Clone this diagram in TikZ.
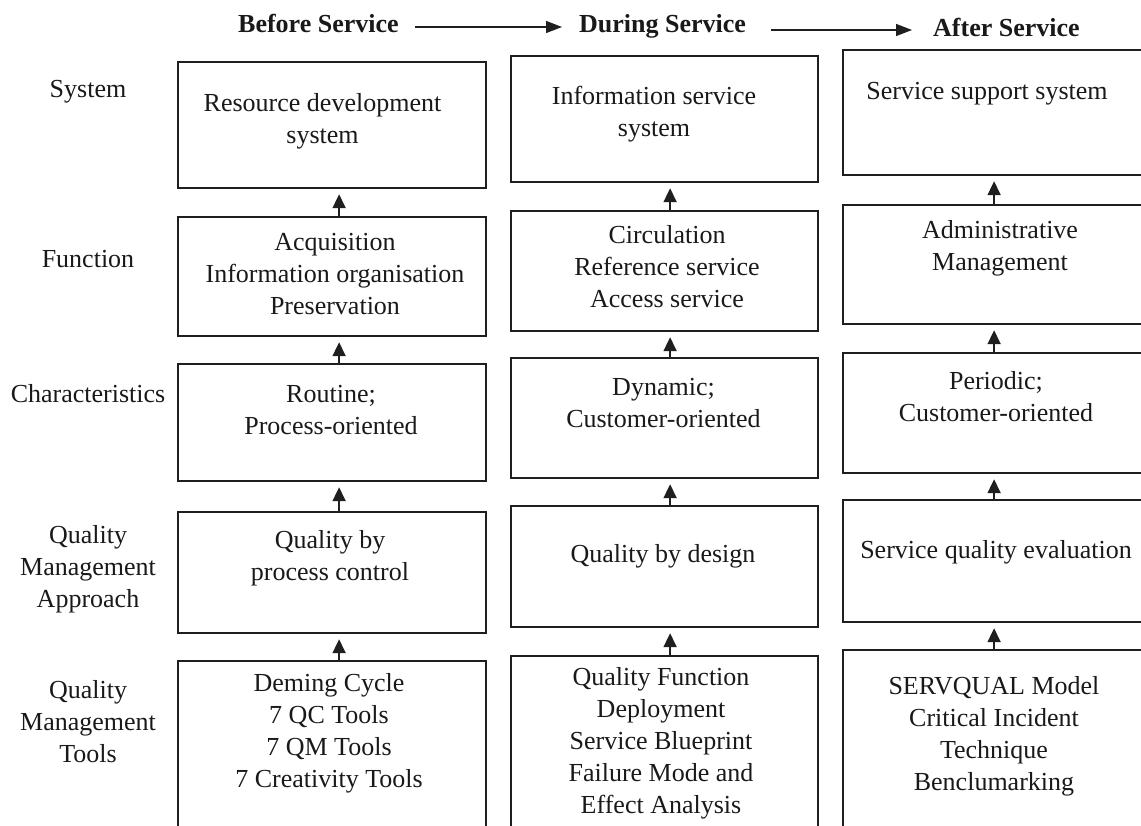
\documentclass[tikz,border=0pt]{standalone}
\usepackage{fontspec}
\setmainfont{Liberation Serif}
\usetikzlibrary{arrows.meta,calc}
\begin{document}
\begin{tikzpicture}[x=1pt,y=-1pt,
  box/.style={draw=black!88, line width=2.2pt, inner sep=0pt, anchor=north west},
  % every first line carries a \strut, so the node top sits 0.7\baselineskip above its baseline
  txt/.style={font=\fontsize{26}{32}\selectfont, align=center, inner sep=0pt,
              anchor=north, text=black!90},
  head/.style={font=\fontsize{26}{32}\selectfont\bfseries, inner sep=0pt,
               anchor=base west, text=black!90},
  uparrow/.style={draw=black!88, line width=1.8pt,
                  -{Triangle[length=14pt,width=13pt]}, shorten >=5pt},
  flow/.style={draw=black!88, line width=1.4pt,
               -{Triangle[length=16pt,width=12pt]}}
]
\useasboundingbox (0,0) rectangle (1141,826);
\clip (0,0) rectangle (1141,826);

% phase headings
\node[head] (hb) at (238,33) {Before Service};
\node[head] (hd) at (579,33) {During Service};
\node[head] (ha) at (933,37) {After Service};
\draw[flow] ($(hb.base east)+(16,-6)$) -- ($(hd.base west)+(-17,-6)$);
\draw[flow] ($(hd.base east)+(25,-3)$) -- ($(ha.base west)+(-21,-7)$);

% row labels
\node[txt] (l1) at (88,74.6) {\strut System};
\node[txt] (l2) at (88,244.6) {\strut Function};
\node[txt] (l3) at (88,379.6) {\strut Characteristics};
\node[txt] (l4) at (88,520.6) {\strut Quality\\Management\\Approach};
\node[txt] (l5) at (88,675.6) {\strut Quality\\Management\\Tools};

% column 1: before service
\node[box, minimum width=308pt, minimum height=126pt] (c1r1) at (177,61) {};
\node[box, minimum width=308pt, minimum height=119pt] (c1r2) at (177,216) {};
\node[box, minimum width=308pt, minimum height=117pt] (c1r3) at (177,363) {};
\node[box, minimum width=308pt, minimum height=121pt] (c1r4) at (177,511) {};
\node[box, minimum width=308pt, minimum height=200pt] (c1r5) at (177,660) {};

% column 2: during service
\node[box, minimum width=307pt, minimum height=126pt] (c2r1) at (510,55) {};
\node[box, minimum width=307pt, minimum height=120pt] (c2r2) at (510,210) {};
\node[box, minimum width=307pt, minimum height=120pt] (c2r3) at (510,357) {};
\node[box, minimum width=307pt, minimum height=121pt] (c2r4) at (510,505) {};
\node[box, minimum width=307pt, minimum height=200pt] (c2r5) at (510,655) {};

% column 3: after service
\node[box, minimum width=307pt, minimum height=125pt] (c3r1) at (842,49) {};
\node[box, minimum width=307pt, minimum height=119pt] (c3r2) at (842,204) {};
\node[box, minimum width=307pt, minimum height=120pt] (c3r3) at (842,352) {};
\node[box, minimum width=307pt, minimum height=122pt] (c3r4) at (842,499) {};
\node[box, minimum width=307pt, minimum height=200pt] (c3r5) at (842,649) {};

% box texts
\node[txt] (t11) at (322.5,88.6) {\strut Resource development\\system};
\node[txt] (t12) at (335,227.6) {\strut Acquisition\\Information organisation\\Preservation};
\node[txt] (t13) at (331,379.6) {\strut Routine;\\Process-oriented};
\node[txt] (t14) at (330,525.6) {\strut Quality by\\process control};
\node[txt] (t15) at (329,668.6) {\strut Deming Cycle\\7 QC Tools\\7 QM Tools\\7 Creativity Tools};

\node[txt] (t21) at (654,81.6) {\strut Information service\\system};
\node[txt] (t22) at (667,220.6) {\strut Circulation\\Reference service\\Access service};
\node[txt] (t23) at (663.5,372.6) {\strut Dynamic;\\Customer-oriented};
\node[txt] (t24) at (663,539.6) {\strut Quality by design};
\node[txt] (t25) at (661,662.6) {\strut Quality Function\\Deployment\\Service Blueprint\\Failure Mode and\\Effect Analysis};

\node[txt] (t31) at (987,76.6) {\strut Service support system};
\node[txt] (t32) at (1000,215.6) {\strut Administrative\\Management};
\node[txt] (t33) at (996,366.6) {\strut Periodic;\\Customer-oriented};
\node[txt] (t34) at (996,535.6) {\strut Service quality evaluation};
\node[txt] (t35) at (994,671.6) {\strut SERVQUAL Model\\Critical Incident\\Technique\\Benclumarking};

% upward links between levels
\foreach \lo/\hi in {c1r2/c1r1, c1r3/c1r2, c1r4/c1r3, c1r5/c1r4}
  \draw[uparrow] ([xshift=7pt]\lo.north) -- ([xshift=7pt]\hi.south);
\foreach \lo/\hi in {c2r2/c2r1, c2r3/c2r2, c2r4/c2r3, c2r5/c2r4}
  \draw[uparrow] ([xshift=5.5pt]\lo.north) -- ([xshift=5.5pt]\hi.south);
\foreach \lo/\hi in {c3r2/c3r1, c3r3/c3r2, c3r4/c3r3, c3r5/c3r4}
  \draw[uparrow] ([xshift=-2.5pt]\lo.north) -- ([xshift=-2.5pt]\hi.south);
\end{tikzpicture}
\end{document}
